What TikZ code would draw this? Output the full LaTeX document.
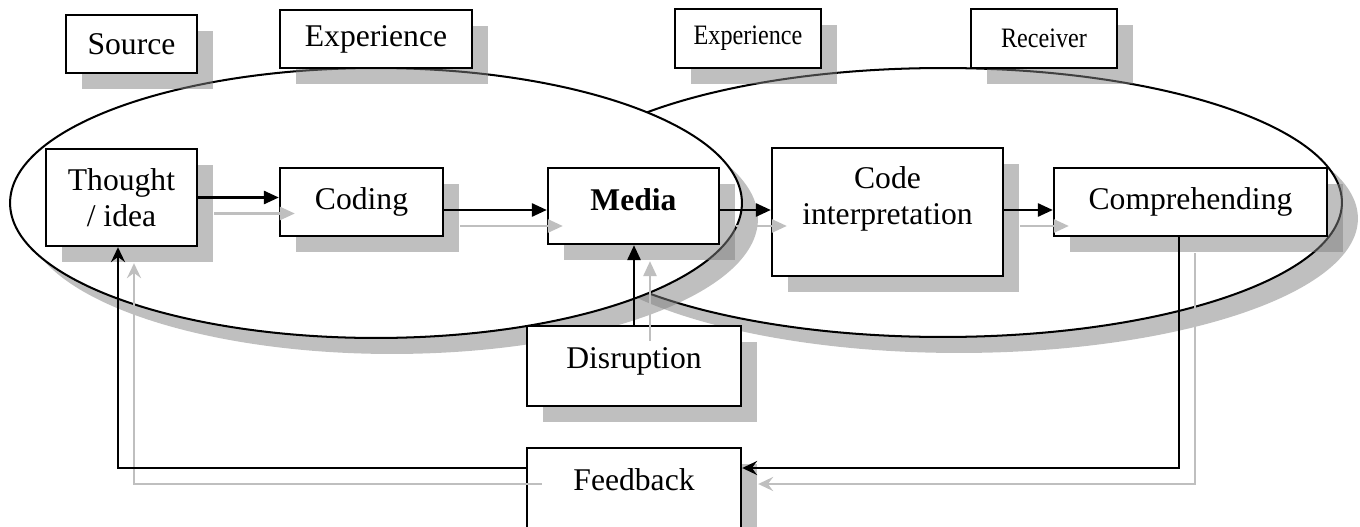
\documentclass[tikz,border=0pt]{standalone}
\usepackage{fontspec}
\setmainfont{Liberation Serif}
\usetikzlibrary{shapes.geometric,shadows,arrows.meta}

\tikzset{
  castshadow/.style={drop shadow={shadow xshift=.32cm,shadow yshift=-.32cm,opacity=.5,fill=gray}},
  ring/.style={ellipse,draw,line width=1.15pt,fill=white,castshadow,inner sep=0pt},
  blk/.style={rectangle,draw,line width=1.4pt,fill=white,castshadow,align=center,inner sep=2pt,
    font=\fontsize{18}{20.5}\selectfont},
  narrow/.style={font=\fontsize{16}{18}\selectfont},
  flow/.style={line width=1.25pt,-{Triangle[length=8.5pt,width=7.5pt]}},
  back/.style={line width=1.25pt,-{Stealth[length=8.5pt,width=8pt,inset=3pt]}}
}

\begin{document}
\begin{tikzpicture}[x=0.02cm,y=-0.02cm]
  \useasboundingbox (0,0) rectangle (1360,527);

  \node[ring,minimum width=15.96cm,minimum height=5.38cm] (rcvring) at (943,202.5) {};
  \node[ring,minimum width=14.64cm,minimum height=5.4cm] (srcring) at (376,203) {};

  \node[blk,minimum width=2.62cm,minimum height=1.16cm] (src) at (131.5,44) {Source};
  \node[blk,minimum width=3.84cm,minimum height=1.16cm] (exp1) at (376,39) {Experience};
  \node[blk,narrow,minimum width=2.92cm,minimum height=1.18cm] (exp2) at (748,38.5) {\scalebox{.86}[1]{Experience}};
  \node[blk,narrow,minimum width=2.92cm,minimum height=1.18cm] (rcv) at (1044,38.5) {\scalebox{.86}[1]{Receiver}};

  \node[blk,minimum width=3.02cm,minimum height=1.94cm] (tht) at (121.5,197.5) {Thought\\/ idea};
  \node[blk,minimum width=3.26cm,minimum height=1.36cm] (cod) at (361.5,202) {Coding};
  \node[blk,minimum width=3.42cm,minimum height=1.52cm,text depth=.24cm] (med) at (633.5,206) {\textbf{Media}};
  \node[blk,minimum width=4.62cm,minimum height=2.56cm,text depth=.64cm] (cin) at (887.5,212) {Code\\interpretation};
  \node[blk,minimum width=5.46cm,minimum height=1.36cm] (cmp) at (1190.5,202) {Comprehending};
  \node[blk,minimum width=4.28cm,minimum height=1.6cm,text depth=.3cm] (dis) at (634,366) {Disruption};
  \node[blk,minimum width=4.28cm,minimum height=1.6cm,text depth=.32cm] (fbk) at (634,488) {Feedback};

  \foreach \tone/\off in {black!25/.32cm,black/0cm}{
    \begin{scope}[color=\tone,transform canvas={shift={(\off,-\off)}}]
      \draw[flow] (tht.east) -- (tht.east -| cod.west);
      \draw[flow] ([yshift=-.16cm]cod.east) -- ([yshift=-.16cm]cod.east -| med.west);
      \draw[flow] ([yshift=-.08cm]med.east) -- ([yshift=-.08cm]med.east -| cin.west);
      \draw[flow] ([yshift=.04cm]cin.east) -- ([yshift=.04cm]cin.east -| cmp.west);
      \draw[flow] (dis.north) -- (dis.north |- med.south);
      \draw[back] ([xshift=-.23cm]cmp.south) |- ([yshift=.4cm]fbk.east);
      \draw[back] ([yshift=.4cm]fbk.west) -| ([xshift=-.07cm]tht.south);
    \end{scope}
  }
\end{tikzpicture}
\end{document}
